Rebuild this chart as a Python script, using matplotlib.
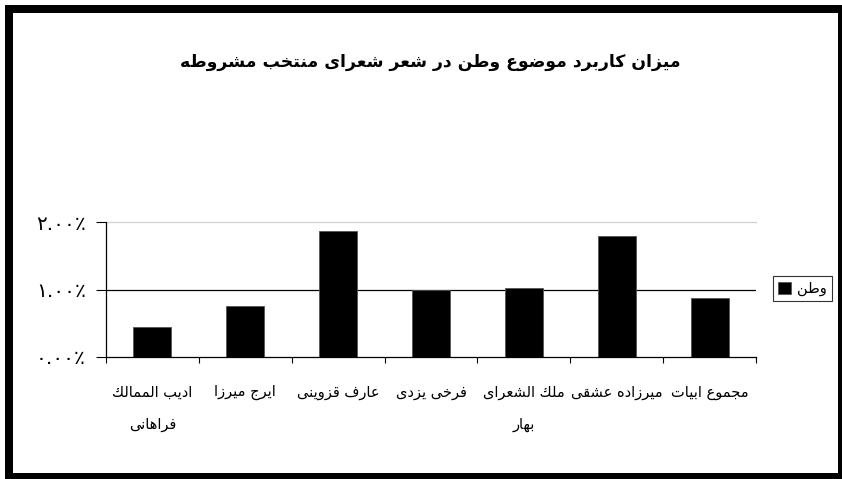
import matplotlib
matplotlib.use("Agg")
import matplotlib.pyplot as plt
from matplotlib.patches import Rectangle
from matplotlib import font_manager, ft2font

# ---------------- data ----------------
title_text = "میزان کاربرد موضوع وطن در شعر شعرای منتخب مشروطه"
categories = ["ادیب الممالك\nفراهانی", "ایرج میرزا", "عارف قزوینی", "فرخی یزدی",
              "ملك الشعرای\nبهار", "میرزاده عشقی", "مجموع ابیات"]
values = [0.45, 0.756, 1.87, 0.99, 1.015, 1.786, 0.88]   # percent
series_name = "وطن"
y_ticks = [0, 1, 2]
y_tick_labels = ["۰.۰۰٪", "۱.۰۰٪", "۲.۰۰٪"]

# ---------------- Arabic-script shaping (presentation forms + visual order) ----------------
FORMS = {
    '\u0627': ('\uFE8D', '\uFE8E', None, None),
    '\u0628': ('\uFE8F', '\uFE90', '\uFE91', '\uFE92'),
    '\u062A': ('\uFE95', '\uFE96', '\uFE97', '\uFE98'),
    '\u062B': ('\uFE99', '\uFE9A', '\uFE9B', '\uFE9C'),
    '\u062C': ('\uFE9D', '\uFE9E', '\uFE9F', '\uFEA0'),
    '\u062D': ('\uFEA1', '\uFEA2', '\uFEA3', '\uFEA4'),
    '\u062E': ('\uFEA5', '\uFEA6', '\uFEA7', '\uFEA8'),
    '\u062F': ('\uFEA9', '\uFEAA', None, None),
    '\u0630': ('\uFEAB', '\uFEAC', None, None),
    '\u0631': ('\uFEAD', '\uFEAE', None, None),
    '\u0632': ('\uFEAF', '\uFEB0', None, None),
    '\u0633': ('\uFEB1', '\uFEB2', '\uFEB3', '\uFEB4'),
    '\u0634': ('\uFEB5', '\uFEB6', '\uFEB7', '\uFEB8'),
    '\u0635': ('\uFEB9', '\uFEBA', '\uFEBB', '\uFEBC'),
    '\u0636': ('\uFEBD', '\uFEBE', '\uFEBF', '\uFEC0'),
    '\u0637': ('\uFEC1', '\uFEC2', '\uFEC3', '\uFEC4'),
    '\u0638': ('\uFEC5', '\uFEC6', '\uFEC7', '\uFEC8'),
    '\u0639': ('\uFEC9', '\uFECA', '\uFECB', '\uFECC'),
    '\u063A': ('\uFECD', '\uFECE', '\uFECF', '\uFED0'),
    '\u0641': ('\uFED1', '\uFED2', '\uFED3', '\uFED4'),
    '\u0642': ('\uFED5', '\uFED6', '\uFED7', '\uFED8'),
    '\u0643': ('\uFED9', '\uFEDA', '\uFEDB', '\uFEDC'),
    '\u0644': ('\uFEDD', '\uFEDE', '\uFEDF', '\uFEE0'),
    '\u0645': ('\uFEE1', '\uFEE2', '\uFEE3', '\uFEE4'),
    '\u0646': ('\uFEE5', '\uFEE6', '\uFEE7', '\uFEE8'),
    '\u0647': ('\uFEE9', '\uFEEA', '\uFEEB', '\uFEEC'),
    '\u0648': ('\uFEED', '\uFEEE', None, None),
    '\u0649': ('\uFEEF', '\uFEF0', None, None),
    '\u064A': ('\uFEF1', '\uFEF2', '\uFEF3', '\uFEF4'),
    '\u067E': ('\uFB56', '\uFB57', '\uFB58', '\uFB59'),
    '\u0686': ('\uFB7A', '\uFB7B', '\uFB7C', '\uFB7D'),
    '\u0698': ('\uFB8A', '\uFB8B', None, None),
    '\u06A9': ('\uFB8E', '\uFB8F', '\uFB90', '\uFB91'),
    '\u06AF': ('\uFB92', '\uFB93', '\uFB94', '\uFB95'),
    '\u06CC': ('\uFBFC', '\uFBFD', '\uFBFE', '\uFBFF'),
}

# fall back for fonts lacking Persian presentation forms
try:
    path = font_manager.findfont(font_manager.FontProperties(family="DejaVu Sans"))
    cmap = ft2font.FT2Font(path).get_charmap()
    if 0xFBFC not in cmap:
        FORMS['\u06CC'] = ('\uFEEF', '\uFEF0', '\uFEF3', '\uFEF4')
    if 0xFB8E not in cmap:
        FORMS['\u06A9'] = FORMS['\u0643']
    if 0x06F0 not in cmap:
        y_tick_labels = [t.translate(str.maketrans("۰۱۲", "٠١٢")) for t in y_tick_labels]
except Exception:
    pass


def shape_line(s):
    out = []
    n = len(s)
    for i, c in enumerate(s):
        f = FORMS.get(c)
        if f is None:
            out.append(c)
            continue
        prev = s[i - 1] if i > 0 else ''
        nxt = s[i + 1] if i < n - 1 else ''
        jp = prev in FORMS and FORMS[prev][2] is not None
        jn = f[2] is not None and nxt in FORMS
        if jp and jn:
            g = f[3]
        elif jp:
            g = f[1]
        elif jn:
            g = f[2]
        else:
            g = f[0]
        out.append(g)
    return ''.join(reversed(out))


def shape(s):
    return '\n'.join(shape_line(l) for l in s.split('\n'))


# ---------------- figure ----------------
plt.rcParams['font.family'] = ['DejaVu Sans']
W, H = 842, 479
fig = plt.figure(figsize=(W / 100, H / 100), dpi=100)
fig.patch.set_facecolor('white')

left, right, top, bottom = 106, 756, 222, 357
ax = fig.add_axes([left / W, 1 - bottom / H, (right - left) / W, (bottom - top) / H])

x = list(range(len(categories)))
ax.bar(x, values, width=0.41, color='black', edgecolor='#555555', linewidth=0.6,
       zorder=3, label=shape(series_name))

ax.set_xlim(-0.5, len(categories) - 0.5)
ax.set_ylim(0, 2)

ax.axhline(1, color='black', lw=0.9, zorder=1)
ax.axhline(2, color='#d0d0d0', lw=0.9, zorder=1, clip_on=False)

for s in ['top', 'right']:
    ax.spines[s].set_visible(False)
for s in ['left', 'bottom']:
    ax.spines[s].set_color('black')
    ax.spines[s].set_linewidth(0.9)
ax.spines['bottom'].set_zorder(4)

ax.set_yticks(y_ticks)
ax.set_yticklabels(y_tick_labels, fontsize=14.5)
ax.tick_params(axis='y', direction='out', length=7.5, width=0.8, color='black', pad=7)

ax.set_xticks(x)
ax.set_xticklabels([shape(c) for c in categories], fontsize=10.5)
ax.tick_params(axis='x', which='major', length=0, pad=20)
ax.set_xticks([i - 0.5 for i in range(len(categories) + 1)], minor=True)
ax.tick_params(axis='x', which='minor', direction='out', length=4.5, width=0.8, color='black')
for lbl in ax.get_xticklabels():
    lbl.set_linespacing(2.4)

fig.text(0.511, 1 - 62 / H, shape(title_text), ha='center', va='center',
         fontsize=12.4, fontweight='bold')

leg = ax.legend(loc='center left', bbox_to_anchor=(773 / W, 1 - 288.5 / H),
                bbox_transform=fig.transFigure, frameon=True, fancybox=False,
                borderaxespad=0, borderpad=0.35, handlelength=0.9, handleheight=0.9,
                handletextpad=0.4, fontsize=10.5)
leg.get_frame().set_edgecolor('black')
leg.get_frame().set_linewidth(0.8)

fig.patches.append(Rectangle((9 / W, 2 / H), (842 - 9) / W, (477 - 9) / H, fill=False,
                             lw=5.76, ec='black', transform=fig.transFigure, figure=fig))

fig.savefig('out.png', dpi=100)
